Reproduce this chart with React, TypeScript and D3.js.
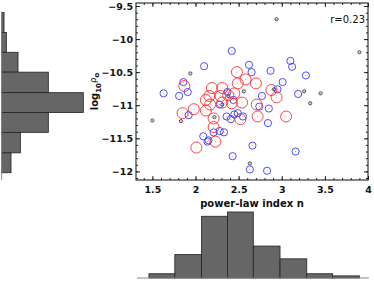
import React, { useEffect, useRef } from "react";
import * as d3 from "d3";

// scatter groups (x = power-law index n, y = log10 rho_o)
const blackX = [2.94, 3.9, 1.94, 2.56, 2.91, 3.26, 3.45, 3.33, 1.5, 1.83, 2.22, 2.31, 2.38, 2.63];
const blackY = [-9.7, -10.2, -10.52, -10.79, -10.76, -10.79, -10.82, -10.97, -11.23, -11.24, -11.18, -10.99, -10.86, -11.88];

const blueX = [2.42, 2.1, 2.62, 2.65, 2.87, 3.1, 3.12, 3.28, 3.01, 2.95, 1.63, 1.86, 1.91, 1.81, 2.77, 3.19, 1.92, 2.36, 2.41, 2.45, 2.49, 2.55, 2.74, 2.85, 2.84, 2.09, 2.14, 2.21, 2.28, 2.33, 2.43, 2.66, 3.16, 2.63, 2.83, 2.37, 2.44, 2.28, 2.15];
const blueY = [-10.18, -10.41, -10.39, -10.5, -10.48, -10.33, -10.42, -10.55, -10.65, -10.76, -10.82, -10.65, -10.8, -10.86, -10.86, -10.83, -11.15, -11.17, -11.21, -11.14, -11.12, -11.17, -11.02, -11.05, -11.27, -11.47, -11.55, -11.41, -11.39, -11.41, -11.77, -11.61, -11.7, -11.97, -11.99, -10.8, -10.92, -10.99, -11.53];

const redX = [2.48, 2.58, 2.49, 2.7, 1.87, 2.19, 2.31, 2.88, 2.94, 2.45, 2.16, 2.29, 2.12, 2.42, 2.54, 2.31, 2.17, 2.12, 1.98, 1.85, 2.21, 2.52, 2.71, 2.72, 3.05, 2.21, 2.23, 2.01, 2.38];
const redY = [-10.5, -10.61, -10.67, -10.67, -10.71, -10.74, -10.74, -10.77, -10.88, -10.82, -10.86, -10.86, -10.92, -10.97, -10.96, -10.96, -10.99, -11.08, -11.06, -11.12, -11.2, -11.21, -10.99, -11.17, -11.17, -11.33, -11.55, -11.64, -10.85];

// marginal histograms
const nEdges = [1.46, 1.76, 2.07, 2.37, 2.67, 2.98, 3.29, 3.59, 3.9];
const nCounts = [2, 11, 29, 31, 15, 9, 2, 1];
const rhoEdges = [-9.6, -9.9, -10.2, -10.5, -10.81, -11.11, -11.41, -11.72, -12.02];
const rhoCounts = [1, 2, 7, 20, 35, 20, 8, 4];

const xMajor = [1.5, 2, 2.5, 3, 3.5, 4];
const yMajor = [-12, -11.5, -11, -10.5, -10, -9.5];

const FONT = "'DejaVu Sans', sans-serif";

export default function App() {
  const ref = useRef<SVGSVGElement>(null);

  useEffect(() => {
    const svg = d3.select(ref.current);
    svg.selectAll("*").remove();

    const x = d3.scaleLinear().domain([1.31, 4.0]).range([136, 368]);
    const y = d3.scaleLinear().domain([-12.13, -9.455]).range([180, 3]);
    const [x0, x1] = x.range();
    const [y0, y1] = y.range(); // bottom, top

    const xMinor = d3.range(14, 41).map((v) => v / 10);
    const yMinor = d3.range(-121, -94).map((v) => v / 10);

    // ---- left histogram (log10 rho)
    const hx = d3.scaleLinear().domain([0, 35]).range([1.7, 83.3]);
    svg
      .append("g")
      .selectAll("rect")
      .data(rhoCounts)
      .enter()
      .append("rect")
      .attr("x", hx(0))
      .attr("y", (d, i) => y(rhoEdges[i]))
      .attr("width", (d) => hx(d) - hx(0))
      .attr("height", (d, i) => y(rhoEdges[i + 1]) - y(rhoEdges[i]))
      .attr("fill", "#666")
      .attr("stroke", "#222")
      .attr("stroke-width", 0.8);
    svg
      .append("line")
      .attr("x1", hx(0))
      .attr("x2", hx(0))
      .attr("y1", y(rhoEdges[0]) - 1)
      .attr("y2", y0)
      .attr("stroke", "#888")
      .attr("stroke-width", 1);

    // ---- bottom histogram (n)
    const hy = d3.scaleLinear().domain([0, 31]).range([278, 212]);
    svg
      .append("g")
      .selectAll("rect")
      .data(nCounts)
      .enter()
      .append("rect")
      .attr("x", (d, i) => x(nEdges[i]))
      .attr("y", (d) => hy(d))
      .attr("width", (d, i) => x(nEdges[i + 1]) - x(nEdges[i]))
      .attr("height", (d) => hy(0) - hy(d))
      .attr("fill", "#666")
      .attr("stroke", "#222")
      .attr("stroke-width", 0.8);
    svg
      .append("line")
      .attr("x1", x0 + 1)
      .attr("x2", x1 + 1)
      .attr("y1", hy(0))
      .attr("y2", hy(0))
      .attr("stroke", "#888")
      .attr("stroke-width", 1);

    // ---- scatter
    const g = svg.append("g");
    const groups = [
      { xs: blackX, ys: blackY, color: "#333", r: 1.6 },
      { xs: blueX, ys: blueY, color: "#3a3aff", r: 3.6 },
      { xs: redX, ys: redY, color: "#ff2e2e", r: 5.5 },
    ];
    groups.forEach((s) => {
      s.xs.forEach((v, i) => {
        g.append("circle")
          .attr("cx", x(v))
          .attr("cy", y(s.ys[i]))
          .attr("r", s.r)
          .attr("fill", "none")
          .attr("stroke", s.color)
          .attr("stroke-width", 0.9);
        g.append("circle")
          .attr("cx", x(v))
          .attr("cy", y(s.ys[i]))
          .attr("r", 0.5)
          .attr("fill", s.color)
          .attr("opacity", 0.6);
      });
    });

    // ---- axes box with inward ticks
    const style = (sel: any) => {
      sel.select(".domain").remove();
      sel.selectAll("line").attr("stroke", "#222");
    };
    svg.append("g").attr("transform", `translate(0,${y0})`)
      .call(d3.axisBottom(x).tickValues(xMinor).tickSize(-2).tickFormat(() => "")).call(style);
    svg.append("g").attr("transform", `translate(0,${y1})`)
      .call(d3.axisTop(x).tickValues(xMinor).tickSize(-2).tickFormat(() => "")).call(style);
    svg.append("g").attr("transform", `translate(${x0},0)`)
      .call(d3.axisLeft(y).tickValues(yMinor).tickSize(-2).tickFormat(() => "")).call(style);
    svg.append("g").attr("transform", `translate(${x1},0)`)
      .call(d3.axisRight(y).tickValues(yMinor).tickSize(-2).tickFormat(() => "")).call(style);

    svg.append("g").attr("transform", `translate(0,${y1})`)
      .call(d3.axisTop(x).tickValues(xMajor).tickSize(-4).tickFormat(() => "")).call(style);
    svg.append("g").attr("transform", `translate(${x1},0)`)
      .call(d3.axisRight(y).tickValues(yMajor).tickSize(-4).tickFormat(() => "")).call(style);

    svg.append("g").attr("transform", `translate(0,${y0})`)
      .call(d3.axisBottom(x).tickValues(xMajor).tickSize(-4).tickPadding(6).tickFormat(d3.format("")))
      .call(style)
      .call((s) => s.selectAll("text").attr("fill", "#111").style("font", `bold 9.5px ${FONT}`));
    svg.append("g").attr("transform", `translate(${x0},0)`)
      .call(d3.axisLeft(y).tickValues(yMajor).tickSize(-4).tickPadding(3).tickFormat(d3.format("")))
      .call(style)
      .call((s) => s.selectAll("text").attr("fill", "#111").style("font", `bold 9.5px ${FONT}`));

    svg.append("rect")
      .attr("x", x0)
      .attr("y", y1)
      .attr("width", x1 - x0)
      .attr("height", y0 - y1)
      .attr("fill", "none")
      .attr("stroke", "#222")
      .attr("stroke-width", 1.1);

    // ---- labels
    svg.append("text")
      .attr("x", 365)
      .attr("y", 23)
      .attr("text-anchor", "end")
      .style("font", `10px ${FONT}`)
      .attr("fill", "#111")
      .text("r=0.23");

    svg.append("text")
      .attr("x", (x0 + x1) / 2)
      .attr("y", 207)
      .attr("text-anchor", "middle")
      .style("font", `bold 10px ${FONT}`)
      .attr("fill", "#111")
      .text("power-law index n");

    const yl = svg.append("text")
      .attr("transform", `translate(98,${(y0 + y1) / 2}) rotate(-90)`)
      .attr("text-anchor", "middle")
      .style("font", `bold 10px ${FONT}`)
      .attr("fill", "#111");
    yl.append("tspan").text("log");
    yl.append("tspan").attr("dy", 2.5).style("font-size", "7px").text("10");
    yl.append("tspan").attr("dy", -5).style("font-size", "8.5px").style("font-weight", "normal").text("ρ");
    yl.append("tspan").attr("dy", 3).style("font-size", "7px").text("o");
  }, []);

  return (
    <svg
      ref={ref}
      width={374}
      height={281}
      style={{ position: "absolute", left: 0, top: 0, background: "#fff" }}
    />
  );
}
